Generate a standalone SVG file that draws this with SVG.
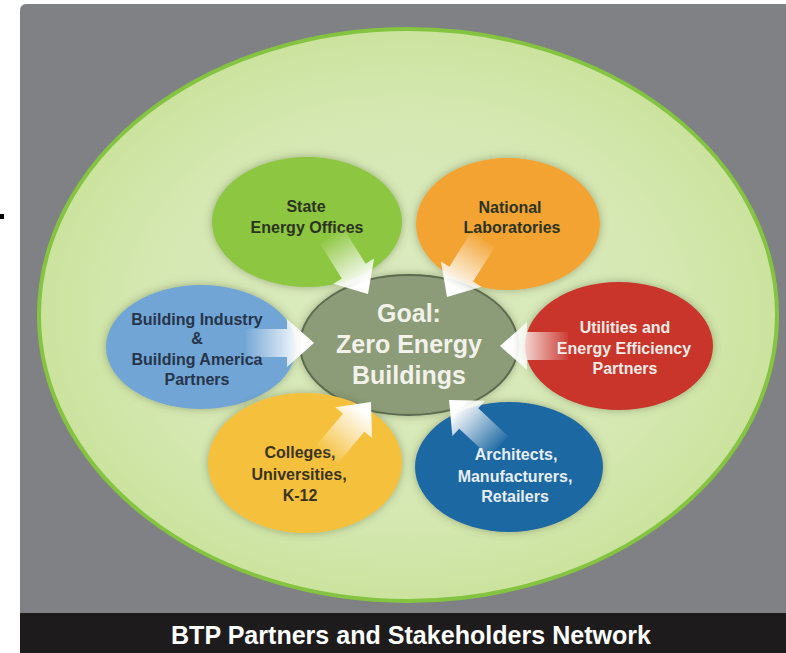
<svg xmlns="http://www.w3.org/2000/svg" xmlns:xlink="http://www.w3.org/1999/xlink" width="786" height="653" viewBox="0 0 786 653">
<defs>
<style>
.lbl{font-family:"Liberation Sans",Arial,sans-serif;font-weight:bold;font-size:16px;text-anchor:middle}
.goal{font-family:"Liberation Sans",Arial,sans-serif;font-weight:bold;font-size:25px;text-anchor:middle;fill:#f2f2ea}
.dark{fill:#2b3320}
.light{fill:#f3ece8}
.node{filter:url(#sh)}
</style>
<radialGradient id="bgG" cx="0.5" cy="0.5" r="0.5">
<stop offset="0" stop-color="#dcebc2"/>
<stop offset="0.7" stop-color="#d5e8b2"/>
<stop offset="1" stop-color="#cbe39e"/>
</radialGradient>
<linearGradient id="arG" gradientUnits="userSpaceOnUse" x1="-68" y1="0" x2="-12" y2="0">
<stop offset="0" stop-color="#ffffff" stop-opacity="0.05"/>
<stop offset="1" stop-color="#ffffff" stop-opacity="1"/>
</linearGradient>
<filter id="sh" x="-20%" y="-20%" width="140%" height="140%">
<feDropShadow dx="0" dy="0" stdDeviation="4" flood-color="#4d5c36" flood-opacity="0.45"/>
</filter>
<path id="arw" d="M0,0 L-27,-24 L-27,-14 L-68,-14 L-68,14 L-27,14 L-27,24 Z" fill="url(#arG)"/>
</defs>
<rect x="0" y="0" width="786" height="653" fill="#ffffff"/>
<rect x="0" y="214" width="4" height="5" fill="#000000"/>
<rect x="20" y="4" width="776" height="620" rx="6" fill="#7f8184"/>
<rect x="20" y="613" width="766" height="40" fill="#1d1b1c"/>
<text x="411" y="644" font-family="'Liberation Sans',Arial,sans-serif" font-weight="bold" font-size="25" fill="#ffffff" textLength="480" lengthAdjust="spacingAndGlyphs" text-anchor="middle">BTP Partners and Stakeholders Network</text>
<ellipse cx="408" cy="315" rx="369" ry="286" fill="url(#bgG)" stroke="#84c441" stroke-width="4"/>

<g id="node-goal"><ellipse class="node" cx="409" cy="345" rx="109" ry="70" fill="#8d9c78" stroke="#5c6a4f" stroke-width="2"/>
<text class="goal" x="409" y="322">Goal:</text><text class="goal" x="409" y="353">Zero Energy</text><text class="goal" x="409" y="384">Buildings</text></g>

<g id="node-state"><ellipse class="node" cx="307" cy="222" rx="95" ry="65" fill="#8dc641"/>
<text class="lbl dark" x="306" y="212">State</text><text class="lbl dark" x="307" y="233">Energy Offices</text></g>

<g id="node-national"><ellipse class="node" cx="508" cy="224" rx="92" ry="66" fill="#f2a332"/>
<text class="lbl dark" x="510" y="213">National</text><text class="lbl dark" x="512" y="233">Laboratories</text></g>

<g id="node-building"><ellipse class="node" cx="201" cy="347" rx="95" ry="62" fill="#71a5d5"/>
<text class="lbl" fill="#26344a" x="197" y="325">Building Industry</text><text class="lbl" fill="#26344a" x="197" y="344">&amp;</text><text class="lbl" fill="#26344a" x="197" y="365">Building America</text><text class="lbl" fill="#26344a" x="197" y="385">Partners</text></g>

<g id="node-utilities"><ellipse class="node" cx="619" cy="346" rx="94" ry="64" fill="#c9342b"/>
<text class="lbl light" x="625" y="333">Utilities and</text><text class="lbl light" x="624" y="354">Energy Efficiency</text><text class="lbl light" x="625" y="374">Partners</text></g>

<g id="node-colleges"><ellipse class="node" cx="305" cy="463" rx="97" ry="70" fill="#f5c13c"/>
<text class="lbl" fill="#3a3320" x="300" y="458">Colleges,</text><text class="lbl" fill="#3a3320" x="299" y="480">Universities,</text><text class="lbl" fill="#3a3320" x="300" y="501">K-12</text></g>

<g id="node-architects"><ellipse class="node" cx="509" cy="467" rx="94" ry="65" fill="#1a67a2"/>
<text class="lbl" fill="#e8eef5" x="516" y="460">Architects,</text><text class="lbl" fill="#e8eef5" x="515" y="482">Manufacturers,</text><text class="lbl" fill="#e8eef5" x="515" y="502">Retailers</text></g>

<g id="connectors">
<use xlink:href="#arw" transform="translate(368,294) rotate(58)"/>
<use xlink:href="#arw" transform="translate(447,297) rotate(122)"/>
<use xlink:href="#arw" transform="translate(314,343)"/>
<use xlink:href="#arw" transform="translate(500,346) rotate(180)"/>
<use xlink:href="#arw" transform="translate(371,402) rotate(-50)"/>
<use xlink:href="#arw" transform="translate(449,400) rotate(-137)"/>
</g>
</svg>
